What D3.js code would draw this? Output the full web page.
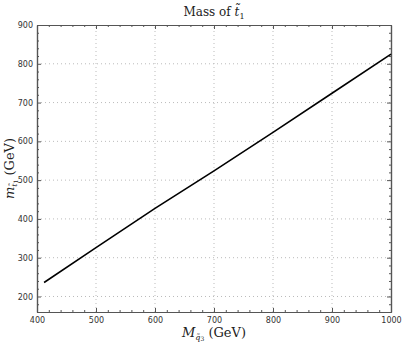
<!DOCTYPE html>
<html>
<head>
<meta charset="utf-8">
<script src="https://cdn.jsdelivr.net/npm/d3@7"></script>
<style>
body{margin:0;background:#fff;}
.tick text{font-family:"DejaVu Sans",sans-serif;font-size:8px;fill:#333;}
.lbl{font-family:"DejaVu Serif","Liberation Serif",serif;fill:#222;}
</style>
</head>
<body>
<div id="chart"></div>
<script>
// values
const squarkMass = [412, 500, 600, 700, 800, 900, 1000];
const stopMass = [236, 326, 427, 524, 623, 724, 825];
const xTicks = [400, 500, 600, 700, 800, 900, 1000];
const yTicks = [200, 300, 400, 500, 600, 700, 800, 900];

const width = 403, height = 343;
const margin = {top: 25, right: 12, bottom: 31, left: 37};

const svg = d3.select('#chart').append('svg')
    .attr('width', width)
    .attr('height', height);

const x = d3.scaleLinear().domain([400, 1000]).range([margin.left, width - margin.right]);
const y = d3.scaleLinear().domain([160, 900]).range([height - margin.bottom, margin.top]);

// dotted grid
const grid = svg.append('g');
grid.selectAll('.gx').data(xTicks.slice(1, -1)).enter().append('line')
    .attr('x1', d => x(d)).attr('x2', d => x(d))
    .attr('y1', y(160)).attr('y2', y(900))
    .attr('stroke', '#bbb').attr('stroke-width', 1).attr('stroke-dasharray', '1,3');
grid.selectAll('.gy').data(yTicks.slice(0, -1)).enter().append('line')
    .attr('y1', d => y(d)).attr('y2', d => y(d))
    .attr('x1', x(400)).attr('x2', x(1000))
    .attr('stroke', '#bbb').attr('stroke-width', 1).attr('stroke-dasharray', '1,3');

// minor ticks every 20
const xMinor = d3.range(420, 1000, 20).filter(v => v % 100 !== 0);
const yMinor = d3.range(160, 900, 20).filter(v => v % 100 !== 0);

function drawAxis(axis, ticks, len, tr){
    const g = svg.append('g').attr('transform', tr);
    g.call(axis.tickValues(ticks).tickSize(len).tickSizeOuter(0));
    g.select('.domain').attr('stroke', '#555').attr('stroke-width', 1.2);
    g.selectAll('.tick line').attr('stroke', '#555');
    return g;
}

const bottomY = y(160), topY = y(900), leftX = x(400), rightX = x(1000);

// major ticks (inward) with labels on bottom and left
const gb = drawAxis(d3.axisBottom(x).tickFormat(d3.format('d')), xTicks, -4, `translate(0,${bottomY})`);
gb.selectAll('.tick text').attr('y', 5);
drawAxis(d3.axisBottom(x), xMinor, -2, `translate(0,${bottomY})`).selectAll('text').remove();
const gl = drawAxis(d3.axisLeft(y).tickFormat(d3.format('d')), yTicks, -4, `translate(${leftX},0)`);
gl.selectAll('.tick text').attr('x', -4);
drawAxis(d3.axisLeft(y), yMinor, -2, `translate(${leftX},0)`).selectAll('text').remove();

// mirrored ticks on top and right
drawAxis(d3.axisTop(x), xTicks, -4, `translate(0,${topY})`).selectAll('text').remove();
drawAxis(d3.axisTop(x), xMinor, -2, `translate(0,${topY})`).selectAll('text').remove();
drawAxis(d3.axisRight(y), yTicks, -4, `translate(${rightX},0)`).selectAll('text').remove();
drawAxis(d3.axisRight(y), yMinor, -2, `translate(${rightX},0)`).selectAll('text').remove();

// curve
const pts = squarkMass.map((m, i) => [m, stopMass[i]]);
svg.append('path')
    .datum(pts)
    .attr('fill', 'none')
    .attr('stroke', '#000')
    .attr('stroke-width', 1.6)
    .attr('d', d3.line().x(d => x(d[0])).y(d => y(d[1])));

// title
const cx = (leftX + rightX) / 2;
const title = svg.append('text').attr('class', 'lbl')
    .attr('x', cx).attr('y', 16).attr('text-anchor', 'middle').attr('font-size', 12);
title.append('tspan').text('Mass of ');
title.append('tspan').attr('font-style', 'italic').text('t\u0303');
title.append('tspan').attr('font-size', 8).attr('dy', 3).text('1');

// x label
const xl = svg.append('text').attr('class', 'lbl')
    .attr('x', cx).attr('y', 337).attr('text-anchor', 'middle').attr('font-size', 13);
xl.append('tspan').attr('font-style', 'italic').text('M');
xl.append('tspan').attr('font-style', 'italic').attr('font-size', 8).attr('dy', 3).text('q\u0303');
xl.append('tspan').attr('font-size', 6).attr('dy', 1).text('3');
xl.append('tspan').attr('dy', -4).text(' (GeV)');

// y label
const yl = svg.append('text').attr('class', 'lbl')
    .attr('transform', `translate(14,${(topY + bottomY) / 2}) rotate(-90)`)
    .attr('text-anchor', 'middle').attr('font-size', 13);
yl.append('tspan').attr('font-style', 'italic').text('m');
yl.append('tspan').attr('font-style', 'italic').attr('font-size', 8).attr('dy', 3).text('t\u0303');
yl.append('tspan').attr('font-size', 6).attr('dy', 1).text('1');
yl.append('tspan').attr('dy', -4).text(' (GeV)');
</script>
</body>
</html>
